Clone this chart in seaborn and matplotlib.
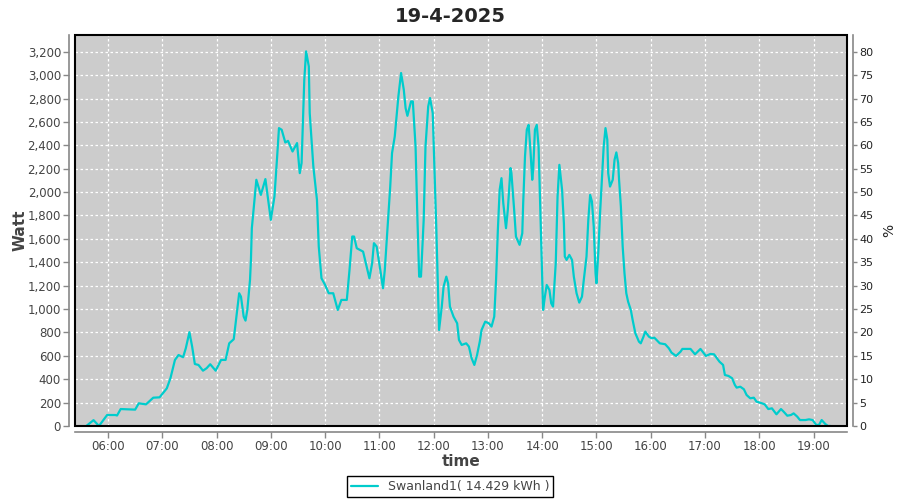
import pandas as pd
import numpy as np
import matplotlib
matplotlib.use('Agg')
import matplotlib.pyplot as plt
import matplotlib.dates as mdates
from matplotlib.ticker import MultipleLocator, FuncFormatter
from matplotlib.patches import Rectangle
import seaborn as sns

# readings of 19-4-2025 (time of day, watt)
times = ['05:36', '05:44', '05:50', '05:59', '06:08', '06:10', '06:14', '06:30', '06:34', '06:42',
         '06:50', '06:57', '07:05', '07:09', '07:14', '07:18', '07:23', '07:26', '07:30', '07:33',
         '07:36', '07:40', '07:45', '07:49', '07:53', '07:59', '08:05', '08:10', '08:14', '08:19',
         '08:22', '08:25', '08:27', '08:30', '08:32', '08:34', '08:37', '08:38', '08:39', '08:42',
         '08:44', '08:49', '08:54', '08:57', '09:00', '09:04', '09:07', '09:09', '09:12', '09:16',
         '09:19', '09:24', '09:29', '09:32', '09:34', '09:37', '09:39', '09:42', '09:43', '09:47',
         '09:51', '09:53', '09:56', '10:00', '10:04', '10:09', '10:14', '10:18', '10:24', '10:27',
         '10:30', '10:32', '10:35', '10:42', '10:45', '10:49', '10:52', '10:54', '10:57', '11:01',
         '11:04', '11:06', '11:09', '11:12', '11:14', '11:17', '11:21', '11:24', '11:27', '11:29',
         '11:31', '11:35', '11:37', '11:40', '11:42', '11:44', '11:46', '11:49', '11:51', '11:54',
         '11:56', '11:59', '12:01', '12:03', '12:05', '12:06', '12:09', '12:11', '12:14', '12:16',
         '12:18', '12:22', '12:26', '12:28', '12:31', '12:36', '12:39', '12:42', '12:45', '12:48',
         '12:51', '12:53', '12:57', '13:01', '13:04', '13:07', '13:09', '13:11', '13:13', '13:15',
         '13:17', '13:20', '13:22', '13:25', '13:26', '13:29', '13:31', '13:35', '13:38', '13:39',
         '13:41', '13:43', '13:45', '13:47', '13:49', '13:50', '13:52', '13:54', '13:56', '13:58',
         '14:00', '14:01', '14:03', '14:05', '14:08', '14:10', '14:12', '14:15', '14:17', '14:19',
         '14:22', '14:24', '14:25', '14:27', '14:30', '14:33', '14:35', '14:38', '14:41', '14:44',
         '14:46', '14:49', '14:51', '14:53', '14:55', '14:57', '14:59', '15:00', '15:02', '15:04',
         '15:06', '15:08', '15:10', '15:12', '15:13', '15:15', '15:18', '15:20', '15:22', '15:24',
         '15:25', '15:27', '15:29', '15:31', '15:33', '15:35', '15:38', '15:40', '15:43', '15:47',
         '15:49', '15:52', '15:54', '15:58', '16:01', '16:04', '16:10', '16:16', '16:20', '16:23',
         '16:28', '16:33', '16:35', '16:44', '16:49', '16:55', '17:01', '17:06', '17:10', '17:16',
         '17:20', '17:22', '17:26', '17:30', '17:33', '17:35', '17:39', '17:43', '17:46', '17:50',
         '17:54', '17:57', '18:03', '18:06', '18:10', '18:14', '18:19', '18:24', '18:27', '18:31',
         '18:35', '18:38', '18:42', '18:45', '18:51', '18:55', '18:59', '19:03', '19:06', '19:09',
         '19:13', '19:16', '19:19']
watt = [0, 50, 0, 94, 94, 90, 145, 140, 194, 185,
        242, 245, 322, 408, 565, 607, 588, 665, 802, 679,
        530, 522, 473, 494, 528, 473, 565, 565, 707, 742,
        935, 1135, 1106, 935, 901, 992, 1250, 1420, 1691, 1934,
        2105, 1976, 2111, 1934, 1762, 1962, 2304, 2547, 2533, 2424,
        2438, 2347, 2419, 2162, 2248, 2960, 3203, 3074, 2675, 2219,
        1934, 1534, 1263, 1206, 1135, 1135, 992, 1078, 1078, 1335,
        1620, 1620, 1520, 1491, 1392, 1263, 1392, 1563, 1534, 1335,
        1178, 1335, 1691, 2047, 2333, 2475, 2817, 3018, 2875, 2718,
        2652, 2775, 2775, 2390, 1791, 1277, 1277, 1762, 2390, 2732,
        2804, 2675, 2190, 1677, 1106, 821, 1021, 1192, 1277, 1220,
        1021, 935, 878, 736, 693, 707, 679, 579, 522, 607,
        721, 821, 892, 878, 850, 935, 1249, 1677, 2019, 2119,
        1905, 1691, 1848, 2205, 2162, 1848, 1620, 1549, 1648, 1905,
        2304, 2533, 2575, 2361, 2105, 2190, 2533, 2575, 2390, 1819,
        1220, 992, 1106, 1206, 1163, 1049, 1021, 1392, 1962, 2233,
        2019, 1734, 1449, 1420, 1463, 1420, 1277, 1135, 1055, 1106,
        1249, 1449, 1762, 1976, 1919, 1705, 1306, 1220, 1477, 1819,
        2105, 2390, 2547, 2447, 2162, 2047, 2105, 2276, 2339, 2248,
        2105, 1876, 1534, 1306, 1135, 1063, 992, 907, 793, 721,
        707, 764, 807, 764, 750, 755, 707, 699, 665, 627,
        599, 636, 659, 659, 613, 659, 599, 616, 613, 550,
        522, 436, 428, 408, 351, 328, 336, 314, 265, 237,
        242, 208, 194, 185, 145, 151, 100, 145, 122, 88,
        94, 108, 80, 51, 51, 57, 51, 9, 9, 51,
        17, 0, 0]

day = '2025-04-19'
series_name = 'Swanland1( 14.429 kWh )'
watt_max = 3343
pct_per_watt = 1 / 40

df = pd.DataFrame({'time': pd.to_datetime([day + ' ' + t for t in times]), 'watt': watt})

sns.set_style('whitegrid')
plt.rcParams['font.family'] = ['DejaVu Sans']

fig = plt.figure(figsize=(9, 5), dpi=100)
ax = fig.add_axes([75 / 900, 1 - 426 / 500, 772 / 900, 391 / 500])
ax.set_facecolor('#cccccc')

sns.lineplot(data=df, x='time', y='watt', color='#00cccc', linewidth=1.6, label=series_name, ax=ax, legend=False)

ax.set_xlim(pd.Timestamp(day + ' 05:23:30'), pd.Timestamp(day + ' 19:37:00'))
ax.set_ylim(0, watt_max)
ax.xaxis.set_major_locator(mdates.HourLocator())
ax.xaxis.set_major_formatter(mdates.DateFormatter('%H:%M'))
ax.yaxis.set_major_locator(MultipleLocator(200))
ax.yaxis.set_major_formatter(FuncFormatter(lambda v, p: f'{int(v):,}'))
ax.grid(True, color='white', linestyle=(0, (2, 2)), linewidth=0.9)

for s in ['top', 'right']:
    ax.spines[s].set_visible(False)
for s in ['left', 'bottom']:
    ax.spines[s].set_position(('outward', 4))
    ax.spines[s].set_color('#888888')
    ax.spines[s].set_linewidth(1.2)
ax.tick_params(axis='both', colors='#888888', labelcolor='#444444', labelsize=8.5,
               length=4, width=1, direction='out', left=True, bottom=True, pad=2)
ax.add_patch(Rectangle((0, 0), 1, 1, transform=ax.transAxes, fill=False,
                       edgecolor='black', linewidth=1.5, clip_on=False, zorder=5))

ax.set_xlabel('time', fontsize=11, fontweight='bold', color='#444444', labelpad=1)
ax.set_ylabel('Watt', fontsize=11, fontweight='bold', color='#444444', labelpad=0)

ax2 = ax.twinx()
ax2.set_ylim(0, watt_max * pct_per_watt)
ax2.yaxis.set_major_locator(MultipleLocator(5))
ax2.grid(False)
for s in ['top', 'left', 'bottom']:
    ax2.spines[s].set_visible(False)
ax2.spines['right'].set_position(('outward', 4))
ax2.spines['right'].set_color('#888888')
ax2.spines['right'].set_linewidth(1.2)
ax2.tick_params(axis='y', colors='#888888', labelcolor='#222222', labelsize=8,
                length=3, width=1, direction='out', right=True, pad=2)
ax2.set_ylabel('%', fontsize=10, color='#222222', labelpad=6)

fig.suptitle('19-4-2025', x=0.5, y=0.985, fontsize=14, fontweight='bold')

handles, labels = ax.get_legend_handles_labels()
leg = fig.legend(handles, labels, loc='lower center', bbox_to_anchor=(0.5, -0.006),
                 fontsize=9, frameon=True, fancybox=False, framealpha=1,
                 edgecolor='black', handlelength=2.2, borderpad=0.3)
for t in leg.get_texts():
    t.set_color('#444444')

plt.savefig('out.png', dpi=100)
